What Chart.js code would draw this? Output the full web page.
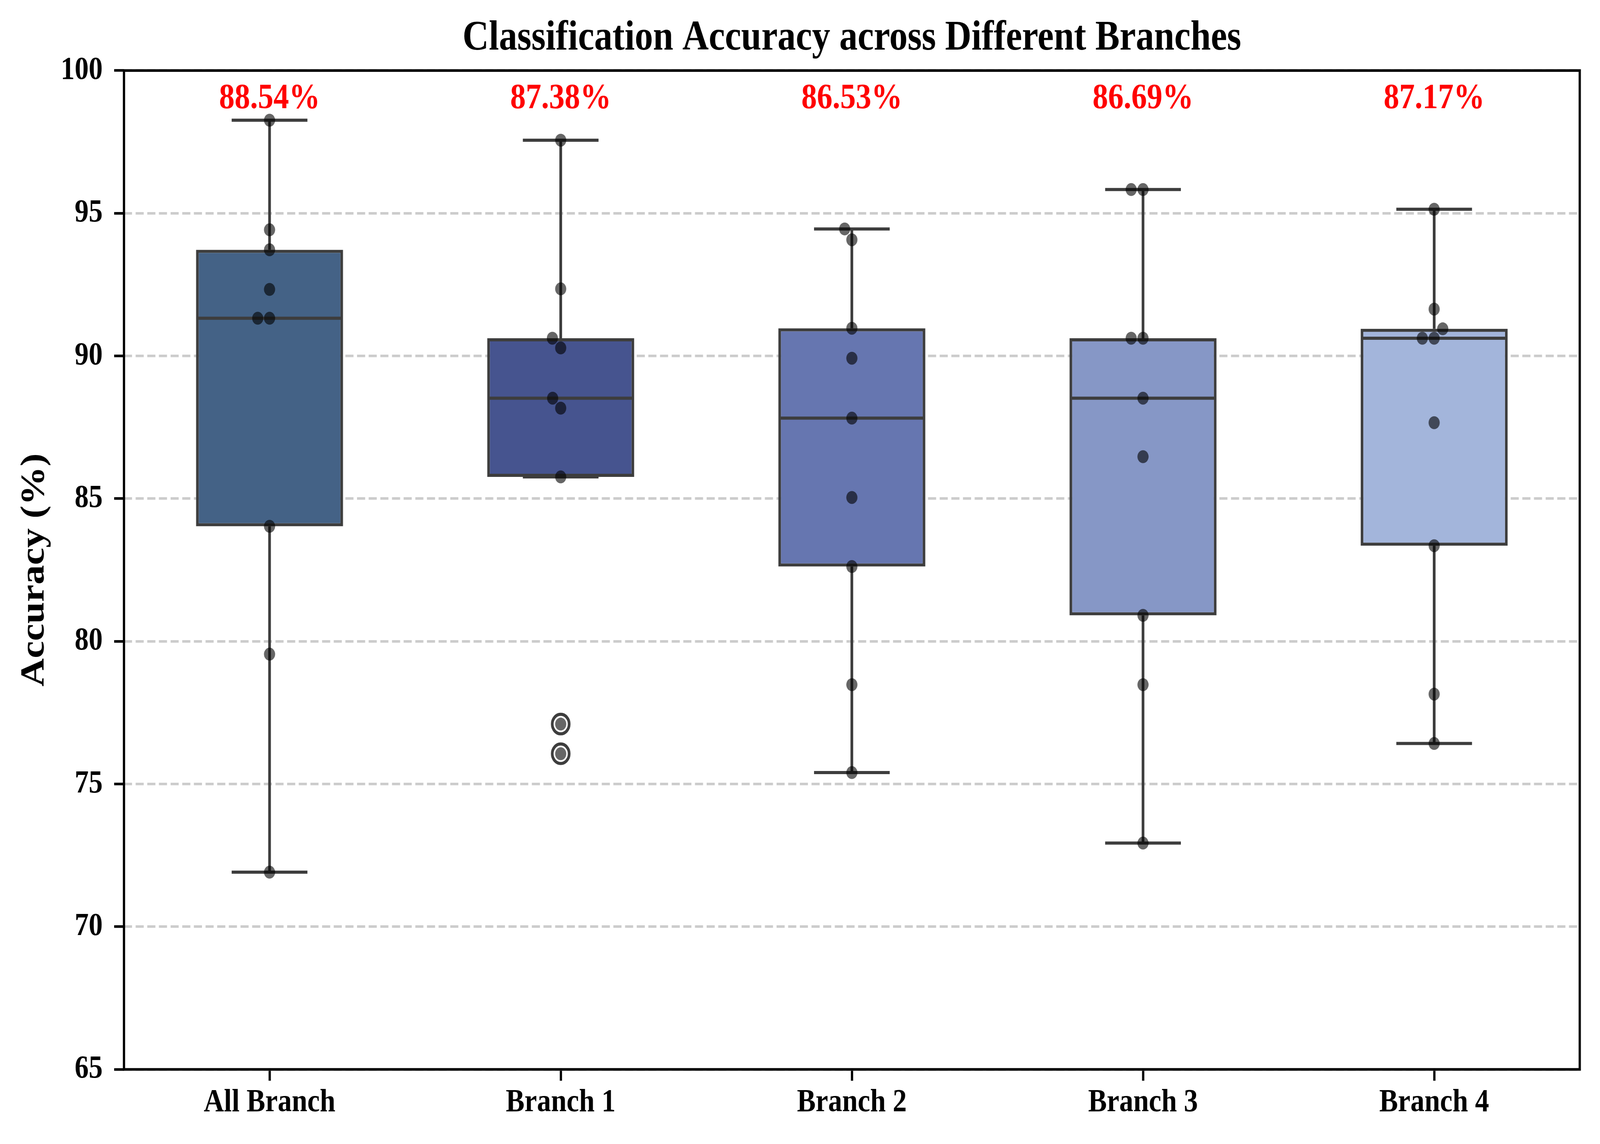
<!DOCTYPE html>
<html>
<head>
<meta charset="utf-8">
<script src="https://cdn.jsdelivr.net/npm/chart.js@4.4.1/dist/chart.umd.min.js"></script>
<style>
html,body{margin:0;padding:0;background:#ffffff;overflow:hidden;}
#wrap{position:absolute;left:0;top:0;}
</style>
</head>
<body>
<div id="wrap"><canvas id="c" width="4737" height="2929"></canvas></div>
<script>
// ---------------- data ----------------
const categories = ['All Branch', 'Branch 1', 'Branch 2', 'Branch 3', 'Branch 4'];
const allBranch = [98.26, 94.42, 93.72, 92.33, 91.32, 91.32, 84.03, 79.55, 71.91];
const branch1   = [97.56, 92.35, 90.62, 90.28, 88.52, 88.17, 85.76, 77.10, 76.06];
const branch2   = [94.45, 94.07, 90.97, 89.92, 87.82, 85.04, 82.62, 78.48, 75.40];
const branch3   = [95.83, 95.83, 90.62, 90.62, 88.52, 86.47, 80.91, 78.48, 72.93];
const branch4   = [95.14, 91.64, 90.95, 90.62, 90.62, 87.66, 83.35, 78.15, 76.42];
const meanLabels = ['88.54%', '87.38%', '86.53%', '86.69%', '87.17%'];
const yTicks = [65, 70, 75, 80, 85, 90, 95, 100];

// ---------------- canvas: drawn at 4737x2929, shown over the whole viewport ----------------
const canvas = document.getElementById('c');
canvas.style.width = (window.innerWidth || 4737) + 'px';
canvas.style.height = (window.innerHeight || 2929) + 'px';

// ---------------- style ----------------
const FONT = "'Liberation Serif','Times New Roman',Times,serif";
const EDGE = '#3d3d3d';
const LW = 8;
const boxColors = ['#446286', '#46548f', '#6676b0', '#8697c6', '#a3b5db'];
const BOX_HALF = 0.25, CAP_HALF = 0.13;
const MEAN_LABEL_Y = 99;
const SWARM_D = 35;

// ---------------- box statistics ----------------
function quantile(sorted, p) {
  const pos = (sorted.length - 1) * p;
  const lo = Math.floor(pos), hi = Math.ceil(pos);
  return sorted[lo] + (sorted[hi] - sorted[lo]) * (pos - lo);
}
function stats(vals) {
  const s = [...vals].sort((a, b) => a - b);
  const q1 = quantile(s, 0.25), med = quantile(s, 0.5), q3 = quantile(s, 0.75);
  const iqr = q3 - q1;
  const loF = q1 - 1.5 * iqr, hiF = q3 + 1.5 * iqr;
  const inl = s.filter(v => v >= loF && v <= hiF);
  return { q1, med, q3, lo: Math.min(...inl), hi: Math.max(...inl), out: s.filter(v => v < loF || v > hiF) };
}
const series = [allBranch, branch1, branch2, branch3, branch4];
const st = series.map(stats);

const boxData = st.map(s => [s.q1, s.q3]);
const medianData = [];
const whiskerData = [];
const capData = [];
const flierData = [];
const pointData = [];
st.forEach((s, i) => {
  medianData.push({x: i - BOX_HALF, y: s.med}, {x: i + BOX_HALF, y: s.med}, {x: i, y: null});
  whiskerData.push({x: i, y: s.q3}, {x: i, y: s.hi}, {x: i, y: null}, {x: i, y: s.q1}, {x: i, y: s.lo}, {x: i, y: null});
  capData.push({x: i - CAP_HALF, y: s.hi}, {x: i + CAP_HALF, y: s.hi}, {x: i, y: null},
               {x: i - CAP_HALF, y: s.lo}, {x: i + CAP_HALF, y: s.lo}, {x: i, y: null});
  s.out.forEach(v => flierData.push({x: i, y: v}));
});
series.forEach((vals, i) => vals.forEach(v => pointData.push({x: i, y: v})));

// ---------------- swarm placement (in pixel space) ----------------
function swarmOffsets(vals, toPx, d) {
  const order = vals.map((v, i) => i).sort((a, b) => vals[a] - vals[b]);
  const placed = [];
  const offs = new Array(vals.length).fill(0);
  for (const i of order) {
    const y = toPx(vals[i]);
    const near = placed.filter(p => Math.abs(p.y - y) < d);
    const cands = [0];
    near.forEach(p => {
      const dx = Math.sqrt(Math.max(d * d - (p.y - y) * (p.y - y), 0));
      cands.push(p.x - dx, p.x + dx);
    });
    cands.sort((a, b) => (Math.abs(a) - Math.abs(b)) || (a - b));
    const ok = c => near.every(p => (p.x - c) * (p.x - c) + (p.y - y) * (p.y - y) >= d * d - 0.01);
    const chosen = cands.find(ok);
    const cx = chosen === undefined ? 0 : chosen;
    placed.push({x: cx, y});
    offs[i] = cx;
  }
  return offs;
}

// ---------------- overlay plugin: mean labels + frame ----------------
const overlay = {
  id: 'overlay',
  afterDatasetsDraw(chart) {
    const {ctx} = chart;
    const x2 = chart.scales.x2, y = chart.scales.y;
    ctx.save();
    ctx.font = 'bold 92px ' + FONT;
    ctx.fillStyle = '#ff0000';
    ctx.textAlign = 'center';
    ctx.textBaseline = 'middle';
    meanLabels.forEach((t, i) => ctx.fillText(t, x2.getPixelForValue(i), y.getPixelForValue(MEAN_LABEL_Y)));
    ctx.restore();
  },
  afterDraw(chart) {
    const {ctx, chartArea: a} = chart;
    ctx.save();
    ctx.setLineDash([]);
    ctx.lineWidth = 6.7;
    ctx.strokeStyle = '#000000';
    ctx.strokeRect(a.left, a.top, a.right - a.left, a.bottom - a.top);
    ctx.restore();
  }
};

const lineCommon = {
  type: 'line', xAxisID: 'x2', yAxisID: 'y',
  borderColor: EDGE, borderWidth: LW, pointRadius: 0, pointHoverRadius: 0,
  fill: false, tension: 0, spanGaps: false, borderCapStyle: 'butt'
};

const chart = new Chart(canvas, {
  type: 'bar',
  data: {
    labels: categories,
    datasets: [
      { type: 'bar', data: boxData, xAxisID: 'x', yAxisID: 'y',
        backgroundColor: boxColors, borderColor: EDGE, borderWidth: LW, borderSkipped: false,
        barPercentage: 0.505, categoryPercentage: 1, grouped: false, order: 3 },
      Object.assign({}, lineCommon, { data: whiskerData, order: 4 }),
      Object.assign({}, lineCommon, { data: capData, order: 4 }),
      Object.assign({}, lineCommon, { data: medianData, order: 2 }),
      { type: 'scatter', data: flierData, xAxisID: 'x2', yAxisID: 'y',
        pointRadius: 25, pointHoverRadius: 25, pointBorderWidth: 8, pointBorderColor: EDGE,
        pointBackgroundColor: 'rgba(0,0,0,0)', order: 1 },
      { type: 'scatter', data: pointData, xAxisID: 'x2', yAxisID: 'y',
        pointRadius: 16.5, pointHoverRadius: 16.5, pointBorderWidth: 0,
        pointBackgroundColor: 'rgba(0,0,0,0.6)', order: 0 }
    ]
  },
  options: {
    responsive: false,
    maintainAspectRatio: false,
    animation: false,
    devicePixelRatio: 1,
    layout: { padding: { left: 0, right: 60, top: 0, bottom: 0 } },
    plugins: {
      legend: { display: false },
      tooltip: { enabled: false },
      title: {
        display: true,
        fullSize: false,
        text: 'Classification Accuracy across Different Branches',
        color: '#000000',
        font: { family: FONT, size: 108, weight: 'bold' },
        padding: { top: 34, bottom: 17 }
      }
    },
    scales: {
      x: {
        type: 'category', labels: categories, offset: true, position: 'bottom',
        grid: { display: true, drawOnChartArea: false, drawTicks: true, tickLength: 29,
                tickColor: '#000000', tickWidth: 6.7, offset: false, color: '#000000' },
        border: { display: false },
        ticks: { font: { family: FONT, size: 83, weight: 'bold' }, color: '#000000',
                 padding: 7, maxRotation: 0, autoSkip: false },
        afterFit: s => { s.height = 191; }
      },
      x2: { type: 'linear', min: -0.5, max: 4.5, offset: false, display: false, position: 'bottom',
            grid: { offset: false } },
      y: {
        type: 'linear', min: 65, max: 100,
        afterBuildTicks: s => { s.ticks = yTicks.map(v => ({ value: v })); },
        ticks: { font: { family: FONT, size: 83, weight: 'bold' }, color: '#000000', padding: 34 },
        grid: { color: '#cccccc', lineWidth: 6.5, drawTicks: true, tickLength: 29,
                tickColor: '#000000', tickWidth: 6.7 },
        border: { display: false, dash: [24, 10.5] },
        title: { display: true, text: 'Accuracy (%)', color: '#000000',
                 font: { family: FONT, size: 100, weight: 'bold' }, padding: { top: 43, bottom: 0 } },
        afterFit: s => { s.width = 367; }
      }
    }
  },
  plugins: [overlay]
});

(function applySwarm() {
  const y = chart.scales.y, x2 = chart.scales.x2;
  const pxPerUnit = x2.getPixelForValue(1) - x2.getPixelForValue(0);
  const pts = [];
  series.forEach((vals, i) => {
    const offs = swarmOffsets(vals, v => y.getPixelForValue(v), SWARM_D);
    vals.forEach((v, k) => pts.push({ x: i + offs[k] / pxPerUnit, y: v }));
  });
  chart.data.datasets[5].data = pts;
  chart.update('none');
})();
</script>
</body>
</html>
